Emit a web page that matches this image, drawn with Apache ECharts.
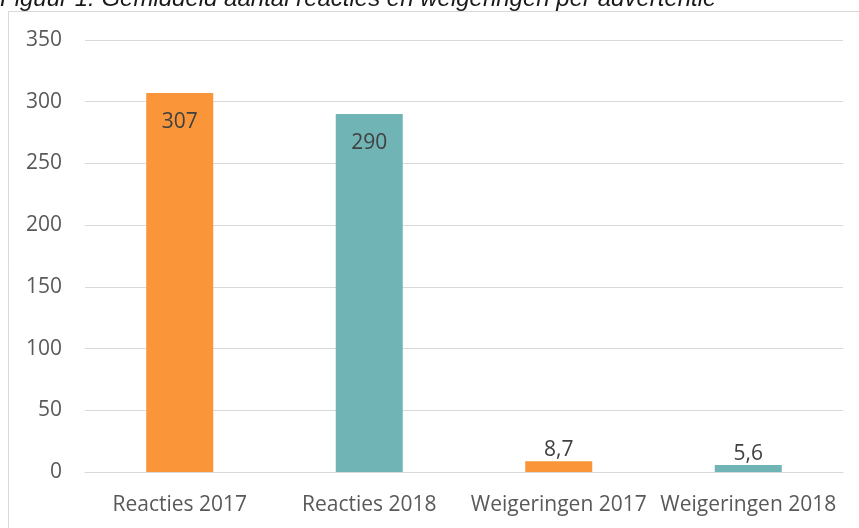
<!DOCTYPE html>
<html lang="nl">
  <head>
    <meta charset="utf-8" />
    <title>Figuur 1</title>
    <script src="https://cdn.jsdelivr.net/npm/echarts@6/dist/echarts.min.js"></script>
    <style>
      html, body { margin: 0; padding: 0; background: #fff; }
      #main { width: 859px; height: 528px; }
    </style>
  </head>
  <body>
    <div id="main"></div>
    <script type="text/javascript">
      var categories = ['Reacties 2017', 'Reacties 2018', 'Weigeringen 2017', 'Weigeringen 2018'];
      var values = [307, 290, 8.7, 5.6];
      var barColors = ['#FA9639', '#71B4B5', '#FA9639', '#71B4B5'];
      var labelTexts = ['307', '290', '8,7', '5,6'];

      var chart = echarts.init(document.getElementById('main'));
      var font = '"Open Sans", sans-serif';

      var data = values.map(function (v, i) {
        var big = v > 50;
        return {
          value: v,
          itemStyle: { color: barColors[i] },
          label: {
            show: true,
            position: big ? 'insideTop' : 'top',
            distance: big ? 18 : 1,
            formatter: labelTexts[i],
            color: '#404040',
            fontSize: 21,
            fontFamily: font
          }
        };
      });

      var option = {
        animation: false,
        graphic: [
          {
            type: 'rect',
            shape: { x: 8.5, y: 11.5, width: 900, height: 600 },
            style: { fill: 'none', stroke: '#D9D9D9', lineWidth: 1 }
          },
          {
            type: 'text',
            x: 0,
            y: 11,
            style: {
              text: 'Figuur 1: Gemiddeld aantal reacties en weigeringen per advertentie',
              font: 'italic 24px "Liberation Sans", Arial, sans-serif',
              fill: '#1a1a1a',
              verticalAlign: 'bottom'
            }
          }
        ],
        grid: { left: 85, right: 16, top: 40, bottom: 56 },
        xAxis: {
          type: 'category',
          data: categories,
          axisLine: { lineStyle: { color: '#D9D9D9', width: 1 } },
          axisTick: { show: false },
          axisLabel: {
            color: '#595959',
            fontSize: 21,
            fontFamily: font,
            margin: 23,
            interval: 0,
            hideOverlap: false
          }
        },
        yAxis: {
          type: 'value',
          min: 0,
          max: 350,
          interval: 50,
          axisLine: { show: false },
          axisTick: { show: false },
          splitLine: { lineStyle: { color: '#D9D9D9', width: 1 } },
          axisLabel: { color: '#595959', fontSize: 21, fontFamily: font, margin: 23 }
        },
        series: [
          {
            type: 'bar',
            data: data,
            barWidth: 67
          }
        ]
      };

      chart.setOption(option);
    </script>
  </body>
</html>
